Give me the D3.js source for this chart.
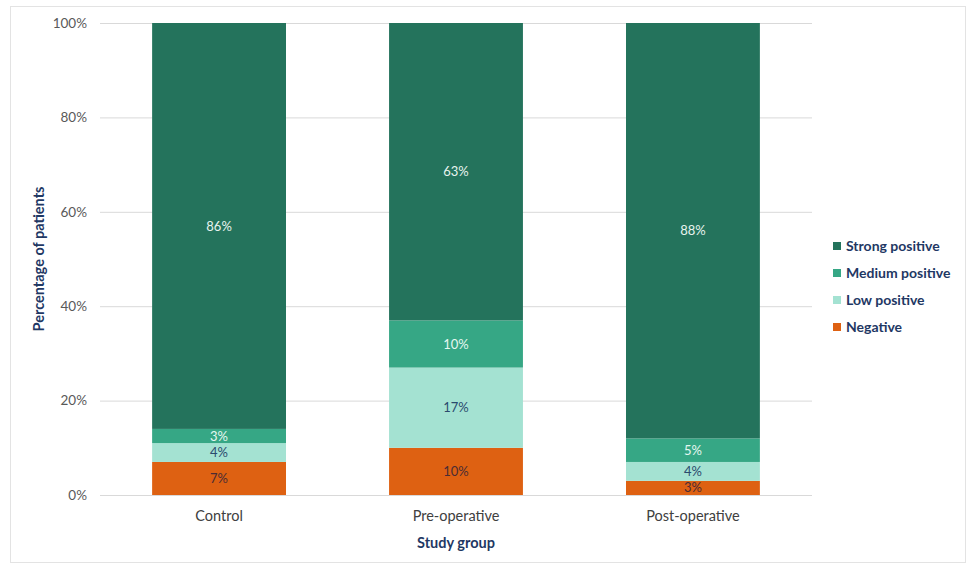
<!DOCTYPE html>
<html>
<head>
<meta charset="utf-8">
<script src="https://cdn.jsdelivr.net/npm/d3@7"></script>
<style>
  body { margin: 0; background: #fff; }
  svg { font-family: Lato, "Open Sans", sans-serif; }
</style>
</head>
<body>
<svg id="chart" width="966" height="566"></svg>
<script>
// Chart data
const groups = ['Control', 'Pre-operative', 'Post-operative'];
const seriesNames = ['Negative', 'Low positive', 'Medium positive', 'Strong positive'];
const negative = [7, 10, 3];
const lowPositive = [4, 17, 4];
const mediumPositive = [3, 10, 5];
const strongPositive = [86, 63, 88];
const yTicks = [0, 20, 40, 60, 80, 100];

const colors = {
  'Negative': '#de6112',
  'Low positive': '#a4e2d2',
  'Medium positive': '#36a785',
  'Strong positive': '#24735c'
};
const labelColors = {
  'Negative': '#4a2c34',
  'Low positive': '#2b4a6e',
  'Medium positive': '#e6f7f1',
  'Strong positive': '#e8f3ef'
};

// Build rows for stacking
const rows = groups.map((g, i) => ({
  group: g,
  'Negative': negative[i],
  'Low positive': lowPositive[i],
  'Medium positive': mediumPositive[i],
  'Strong positive': strongPositive[i]
}));

const svg = d3.select('#chart');

// light frame round the chart
svg.append('rect')
  .attr('x', 10.5).attr('y', 6.5)
  .attr('width', 955).attr('height', 556)
  .attr('fill', 'none')
  .attr('stroke', '#e3e3e3');

const plotLeft = 100, plotRight = 812, plotTop = 23, plotBottom = 495;

const x = d3.scaleBand().domain(groups).range([plotLeft, plotRight]).paddingInner(0.435).paddingOuter(0.22);
const y = d3.scaleLinear().domain([0, 100]).range([plotBottom, plotTop]);

// Gridlines
svg.append('g')
  .selectAll('line')
  .data(yTicks)
  .join('line')
  .attr('x1', plotLeft).attr('x2', plotRight)
  .attr('y1', d => y(d) + 0.5).attr('y2', d => y(d) + 0.5)
  .attr('stroke', '#d9d9d9');

// Y axis tick labels
const yAxis = d3.axisLeft(y).tickValues(yTicks).tickSize(0).tickPadding(13).tickFormat(d => d + '%');
svg.append('g')
  .attr('transform', `translate(${plotLeft},0)`)
  .call(yAxis)
  .call(g => g.select('.domain').remove())
  .call(g => g.selectAll('text').attr('fill', '#595959').style('font-size', '13.5px').style('font-family', 'Lato, sans-serif'));

// X axis labels
const xAxis = d3.axisBottom(x).tickSize(0).tickPadding(16);
svg.append('g')
  .attr('transform', `translate(0,${plotBottom})`)
  .call(xAxis)
  .call(g => g.select('.domain').remove())
  .call(g => g.selectAll('text').attr('fill', '#404040').style('font-size', '14.5px').style('font-family', 'Lato, sans-serif'));

// Stacked bars
const stack = d3.stack().keys(seriesNames);
const layers = stack(rows);

const layer = svg.append('g')
  .selectAll('g')
  .data(layers)
  .join('g')
  .attr('fill', d => colors[d.key]);

layer.selectAll('rect')
  .data(d => d)
  .join('rect')
  .attr('x', d => x(d.data.group))
  .attr('y', d => y(d[1]))
  .attr('width', x.bandwidth())
  .attr('height', d => y(d[0]) - y(d[1]));

// Data labels
layers.forEach(l => {
  svg.append('g')
    .selectAll('text')
    .data(l)
    .join('text')
    .attr('x', d => x(d.data.group) + x.bandwidth() / 2)
    .attr('y', d => (y(d[0]) + y(d[1])) / 2)
    .attr('dy', '0.35em')
    .attr('text-anchor', 'middle')
    .attr('fill', labelColors[l.key])
    .style('font-size', '13px')
    .text(d => d.data[l.key] + '%');
});

// Axis titles
svg.append('text')
  .attr('transform', `translate(44,${(plotTop + plotBottom) / 2}) rotate(-90)`)
  .attr('text-anchor', 'middle')
  .attr('fill', '#1f3864')
  .style('font-size', '14.5px')
  .style('font-weight', 'bold')
  .text('Percentage of patients');

svg.append('text')
  .attr('x', (plotLeft + plotRight) / 2)
  .attr('y', 548)
  .attr('text-anchor', 'middle')
  .attr('fill', '#1f3864')
  .style('font-size', '14.5px')
  .style('font-weight', 'bold')
  .text('Study group');

// Legend
const legendOrder = ['Strong positive', 'Medium positive', 'Low positive', 'Negative'];
const legend = svg.append('g')
  .selectAll('g')
  .data(legendOrder)
  .join('g')
  .attr('transform', (d, i) => `translate(833,${246 + i * 27})`);

legend.append('rect')
  .attr('x', 0).attr('y', -4)
  .attr('width', 8).attr('height', 8)
  .attr('fill', d => colors[d]);

legend.append('text')
  .attr('x', 13)
  .attr('dy', '0.35em')
  .attr('fill', '#1f3864')
  .style('font-size', '14px')
  .style('font-weight', 'bold')
  .text(d => d);
</script>
</body>
</html>
